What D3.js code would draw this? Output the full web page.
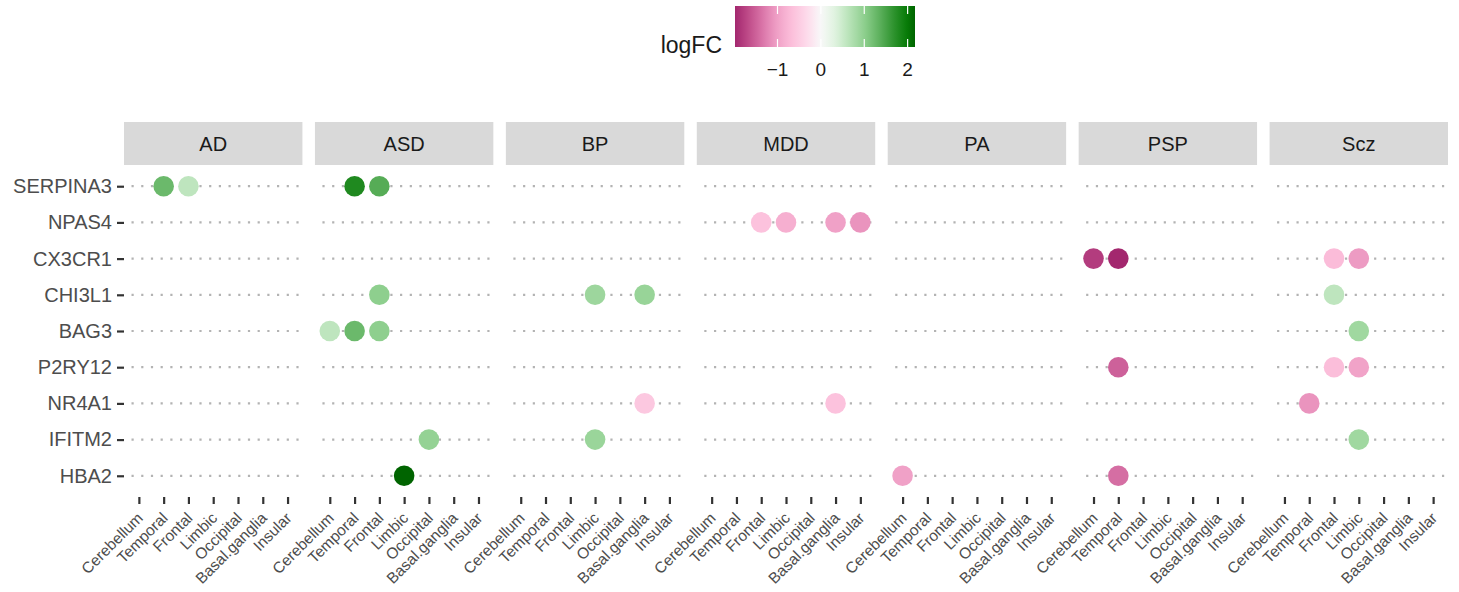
<!DOCTYPE html>
<html>
<head>
<meta charset="utf-8">
<script src="https://cdn.jsdelivr.net/npm/d3@7"></script>
<style>
  body { margin: 0; background: #fff; }
  svg { font-family: "Liberation Sans", Arial, sans-serif; }
</style>
</head>
<body>
<div id="chart"></div>
<script>
// Data
const diseases = ["AD", "ASD", "BP", "MDD", "PA", "PSP", "Scz"];
const regions = ["Cerebellum", "Temporal", "Frontal", "Limbic", "Occipital", "Basal.ganglia", "Insular"];
const genes = ["SERPINA3", "NPAS4", "CX3CR1", "CHI3L1", "BAG3", "P2RY12", "NR4A1", "IFITM2", "HBA2"];
const legendTicks = [-1, 0, 1, 2];

// [disease, region, gene, logFC]
const hits = [
  ["AD", "Temporal", "SERPINA3", 1.25],
  ["AD", "Frontal", "SERPINA3", 0.6],
  ["ASD", "Temporal", "SERPINA3", 1.8],
  ["ASD", "Frontal", "SERPINA3", 1.4],
  ["ASD", "Frontal", "CHI3L1", 1.0],
  ["ASD", "Cerebellum", "BAG3", 0.6],
  ["ASD", "Temporal", "BAG3", 1.25],
  ["ASD", "Frontal", "BAG3", 1.0],
  ["ASD", "Occipital", "IFITM2", 0.95],
  ["ASD", "Limbic", "HBA2", 2.17],
  ["BP", "Limbic", "CHI3L1", 0.88],
  ["BP", "Basal.ganglia", "CHI3L1", 0.92],
  ["BP", "Basal.ganglia", "NR4A1", -0.55],
  ["BP", "Limbic", "IFITM2", 0.9],
  ["MDD", "Frontal", "NPAS4", -0.62],
  ["MDD", "Limbic", "NPAS4", -0.85],
  ["MDD", "Basal.ganglia", "NPAS4", -1.0],
  ["MDD", "Insular", "NPAS4", -1.1],
  ["MDD", "Basal.ganglia", "NR4A1", -0.62],
  ["PA", "Cerebellum", "HBA2", -1.0],
  ["PSP", "Cerebellum", "CX3CR1", -1.8],
  ["PSP", "Temporal", "CX3CR1", -1.98],
  ["PSP", "Temporal", "P2RY12", -1.5],
  ["PSP", "Temporal", "HBA2", -1.4],
  ["Scz", "Frontal", "CX3CR1", -0.7],
  ["Scz", "Limbic", "CX3CR1", -1.05],
  ["Scz", "Frontal", "CHI3L1", 0.6],
  ["Scz", "Limbic", "BAG3", 0.85],
  ["Scz", "Frontal", "P2RY12", -0.68],
  ["Scz", "Limbic", "P2RY12", -0.98],
  ["Scz", "Temporal", "NR4A1", -1.1],
  ["Scz", "Limbic", "IFITM2", 0.85],
];

function draw() {
  const width = 1459;
  const height = 592;

  const svg = d3
    .select("#chart")
    .append("svg")
    .attr("width", width)
    .attr("height", height);

  // Facet scale and per-panel scales
  const facet = d3
    .scaleBand()
    .domain(diseases)
    .range([124, 1448])
    .paddingInner(0.0655)
    .paddingOuter(0);

  const xScale = d3
    .scalePoint()
    .domain(regions)
    .range([0, facet.bandwidth()])
    .padding(0.6);

  const yScale = d3
    .scalePoint()
    .domain(genes)
    .range([164.5, 497.5])
    .padding(0.6);

  const vMin = d3.min(hits, (d) => d[3]);
  const vMax = d3.max(hits, (d) => d[3]);

  // diverging colour scale (pink - white - green)
  const color = d3
    .scaleLinear()
    .domain([-1.98, -1.64, -1.29, -1.0, -0.7, -0.35, 0, 0.32, 0.67, 1.0, 1.36, 1.71, 2.01, 2.17])
    .range([
      "#a3276e", "#c24f8c", "#de7cae", "#f0a1c7", "#fbbcd9", "#fed8ea", "#f8f8f8",
      "#e0f3e0", "#b6e2b6", "#8ecf8e", "#5cb05c", "#2a902a", "#047a04", "#006400",
    ])
    .clamp(true);

  // Panels
  const panels = svg
    .selectAll("g.panel")
    .data(diseases)
    .join("g")
    .attr("class", "panel")
    .attr("transform", (d) => `translate(${facet(d)},0)`);

  // strips
  panels
    .append("rect")
    .attr("x", 0)
    .attr("y", 122)
    .attr("width", facet.bandwidth())
    .attr("height", 43)
    .attr("fill", "#d9d9d9");

  panels
    .append("text")
    .attr("x", facet.bandwidth() / 2)
    .attr("y", 143.5)
    .attr("dy", "0.35em")
    .attr("text-anchor", "middle")
    .attr("font-size", 20)
    .attr("fill", "#1a1a1a")
    .text((d) => d);

  // dotted gene lines
  panels
    .selectAll("line.grid")
    .data(genes)
    .join("line")
    .attr("class", "grid")
    .attr("x1", 0)
    .attr("x2", facet.bandwidth())
    .attr("y1", (g) => yScale(g))
    .attr("y2", (g) => yScale(g))
    .attr("stroke", "#b3b3b3")
    .attr("stroke-width", 2.2)
    .attr("stroke-dasharray", "2.2 7.5")
    .attr("stroke-dashoffset", -7.5);

  // x axis per panel
  panels.each(function () {
    const ax = d3
      .select(this)
      .append("g")
      .attr("transform", "translate(0,497)")
      .call(d3.axisBottom(xScale).tickSize(7).tickPadding(0));
    ax.select(".domain").remove();
    ax.selectAll(".tick line").attr("stroke", "#333").attr("stroke-width", 2.2);
    ax.selectAll(".tick text")
      .attr("font-size", 15.5)
      .attr("fill", "#4d4d4d")
      .attr("text-anchor", "end")
      .attr("y", 0)
      .attr("dy", 0)
      .attr("transform", "translate(4.5,22) rotate(-45)");
  });

  // points
  panels
    .selectAll("circle")
    .data((d) => hits.filter((h) => h[0] === d))
    .join("circle")
    .attr("cx", (d) => xScale(d[1]))
    .attr("cy", (d) => yScale(d[2]))
    .attr("r", 10.3)
    .attr("fill", (d) => color(d[3]));

  // y axis (left panel only)
  const yAxis = svg
    .append("g")
    .attr("transform", "translate(124,0)")
    .call(d3.axisLeft(yScale).tickSize(7).tickPadding(5));
  yAxis.select(".domain").remove();
  yAxis.selectAll(".tick line").attr("stroke", "#333").attr("stroke-width", 2.2);
  yAxis.selectAll(".tick text")
    .attr("font-size", 20)
    .attr("fill", "#4d4d4d")
    .attr("font-family", "Liberation Sans, Arial, sans-serif");

  // Colour bar legend
  const barX = d3.scaleLinear().domain([vMin, vMax]).range([735, 915]);
  const defs = svg.append("defs");
  const grad = defs
    .append("linearGradient")
    .attr("id", "logfc-grad")
    .attr("x1", "0%")
    .attr("x2", "100%");
  d3.range(0, 1.0001, 0.025).forEach((t) => {
    grad
      .append("stop")
      .attr("offset", `${t * 100}%`)
      .attr("stop-color", color(vMin + t * (vMax - vMin)));
  });

  svg
    .append("rect")
    .attr("x", 735)
    .attr("y", 6)
    .attr("width", 180)
    .attr("height", 41)
    .attr("fill", "url(#logfc-grad)");

  legendTicks.forEach((t) => {
    svg
      .append("line")
      .attr("x1", barX(t))
      .attr("x2", barX(t))
      .attr("y1", 6)
      .attr("y2", 14)
      .attr("stroke", "#fff")
      .attr("stroke-width", 1.2);
    svg
      .append("line")
      .attr("x1", barX(t))
      .attr("x2", barX(t))
      .attr("y1", 39)
      .attr("y2", 47)
      .attr("stroke", "#fff")
      .attr("stroke-width", 1.2);
  });

  svg
    .selectAll("text.legend-label")
    .data(legendTicks)
    .join("text")
    .attr("class", "legend-label")
    .attr("x", (d) => barX(d))
    .attr("y", 76)
    .attr("text-anchor", "middle")
    .attr("font-size", 19)
    .attr("fill", "#1a1a1a")
    .text((d) => (d < 0 ? "\u2212" + Math.abs(d) : d));

  svg
    .append("text")
    .attr("x", 722)
    .attr("y", 53)
    .attr("text-anchor", "end")
    .attr("font-size", 23)
    .attr("fill", "#1a1a1a")
    .text("logFC");
}

draw();
</script>
</body>
</html>
